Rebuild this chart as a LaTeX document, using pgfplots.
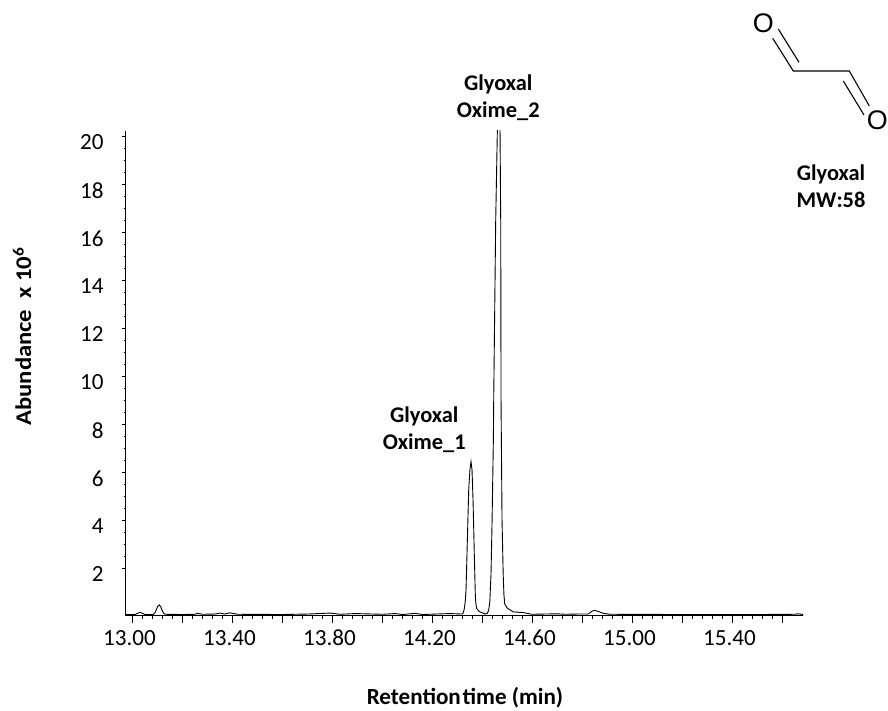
\documentclass[border=0pt]{standalone}
\usepackage{pgfplots}
\usepackage{fontspec}
\setmainfont{Carlito}
\newfontfamily\molfont{Liberation Sans}
\pgfplotsset{compat=1.18}
\begin{document}
\begin{tikzpicture}[x=1bp,y=1bp]
\useasboundingbox (0,0) rectangle (888,711);
\begin{axis}[
  at={(125bp,96bp)}, anchor=south west,
  scale only axis, width=678.3bp, height=484bp,
  xmin=12.97, xmax=15.683, ymin=0.04, ymax=20.21,
  axis x line*=bottom, axis y line*=left,
  axis line style={-, line width=0.9bp, black},
  tick align=outside,
  xtick={13,13.2,13.4,13.6,13.8,14,14.2,14.4,14.6,14.8,15,15.2,15.4,15.6},
  xticklabels={13.00,,13.40,,13.80,,14.20,,14.60,,15.00,,15.40,},
  minor x tick num=4,
  ytick={2,4,6,8,10,12,14,16,18,20},
  minor y tick num=3,
  x tick style={line width=0.7bp, black},
  y tick style={line width=0.7bp, black},
  tick label style={font=\fontsize{23.2}{24}\selectfont},
  /pgf/number format/assume math mode=true,
  major tick length=8bp, minor tick length=4bp,
  y tick style={/pgfplots/major tick length=3bp, /pgfplots/minor tick length=1.5bp},
  yticklabel style={xshift=-10bp, yshift=-6.5bp},
  xticklabel style={yshift=-3.5bp, xshift=-3bp},
  clip=true,
]
\addplot[black, line width=0.9bp] coordinates {
(12.97,0.06)(13.01,0.06)(13.02,0.11)(13.03,0.15)(13.04,0.11)(13.05,0.06)(13.083,0.06)(13.09,0.14)(13.095,0.25)(13.101,0.4)(13.107,0.46)(13.113,0.38)(13.118,0.25)(13.124,0.12)(13.13,0.07)
(13.2,0.06)(13.25,0.07)(13.26,0.11)(13.28,0.07)(13.33,0.08)(13.35,0.12)(13.37,0.08)(13.39,0.13)(13.42,0.07)
(13.6,0.06)(13.7,0.08)(13.79,0.12)(13.83,0.07)(13.89,0.1)(14.0,0.07)(14.05,0.1)(14.08,0.06)(14.13,0.11)(14.16,0.06)
(14.27,0.10)(14.318,0.08)(14.3235,0.14)(14.3273,0.32)(14.331,0.62)(14.334,1.08)(14.3393,3.17)(14.3447,5.25)(14.35,6.15)(14.354,6.43)(14.358,6.08)
(14.362,4.83)(14.3673,2.47)(14.3713,0.81)(14.3735,0.5)(14.3767,0.32)(14.383,0.22)(14.39,0.17)(14.41,0.08)(14.4193,0.11)(14.4245,0.24)(14.4292,0.6)(14.434,1.78)
(14.438,3.86)(14.4412,5.94)(14.4433,7.33)(14.4447,9)(14.4527,16.5)(14.4592,20.2)(14.4644,21.5)(14.47,20.2)(14.4727,16.5)
(14.474,9)(14.4753,7.33)(14.478,4)(14.4825,1.78)(14.4855,0.9)(14.4887,0.5)(14.4993,0.32)(14.5232,0.17)(14.5632,0.14)(14.5967,0.07)
(14.7,0.09)(14.73,0.07)(14.78,0.08)(14.823,0.08)(14.8367,0.19)(14.847,0.236)(14.863,0.19)(14.883,0.11)(14.91,0.07)
(15.2,0.06)(15.5,0.06)(15.65,0.07)(15.66,0.09)(15.683,0.06)
};
\end{axis}
\begin{scope}[every node/.style={font=\bfseries\fontsize{22.5}{27.5}\selectfont, align=center, inner sep=0pt}]
\node at (498.3,711-98) {Glyoxal\\Oxime\_2};
\node at (424.3,711-430) {Glyoxal\\Oxime\_1};
\node at (831,711-186) {Glyoxal\\MW:58};
\node[font=\bfseries\fontsize{23.2}{27.5}\selectfont] at (465,711-697.5) {Retention\hspace{0.08em}time (min)};
\node[rotate=90, xscale=1.1, transform shape] at (22,711-336.5) {Abundance\hspace{0.45em}x 10\textsuperscript{6}};
\end{scope}
\draw[line width=1.1bp,black] (772.7,711-38.3)--(793.3,711-71)--(849.3,711-71)--(869.3,711-106);
\draw[line width=1.1bp,black] (799,711-62.3)--(778.3,711-29);
\draw[line width=1.1bp,black] (843.3,711-81)--(864,711-115);
\node[font=\molfont\fontsize{27}{27}\selectfont,inner sep=0pt] at (763.3,711-23.3) {O};
\node[font=\molfont\fontsize{27}{27}\selectfont,inner sep=0pt] at (877.3,711-120) {O};
\end{tikzpicture}
\end{document}
